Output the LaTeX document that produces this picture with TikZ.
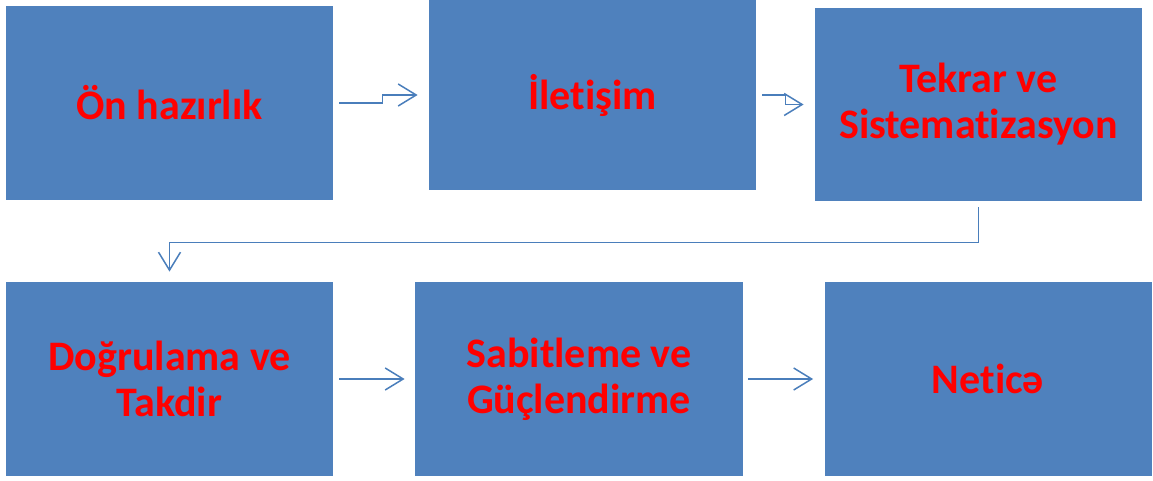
\documentclass[tikz,border=0pt]{standalone}
\usepackage{fontspec}
\setmainfont{Carlito}[Ligatures={NoCommon}]
\usetikzlibrary{arrows.meta}
\definecolor{boxblue}{HTML}{4F81BD}
\definecolor{lineblue}{HTML}{4A7EBB}
\tikzset{
  stagebox/.style={fill=boxblue, text=red, font=\bfseries\fontsize{21}{23}\selectfont,
    align=center, inner sep=0pt, minimum width=163.5pt, minimum height=97pt},
  flow/.style={draw=lineblue, line width=0.75pt,
    -{Straight Barb[length=9pt,width=11pt,line width=0.75pt]}}
}
\begin{document}
\begin{tikzpicture}[x=0.5pt,y=-0.5pt]
  \useasboundingbox (0,0) rectangle (1153,481);
  % first row
  \node[stagebox] (hazir) at (169.5,103) {Ön hazırlık};
  \node[stagebox,minimum height=95pt] (ilet) at (592.5,95) {İletişim};
  \node[stagebox,minimum height=96.5pt] (tekrar) at (978.5,104.5) {Tekrar ve\\Sistematizasyon};
  % second row
  \node[stagebox] (dogru) at (169.5,379) {Doğrulama ve\\Takdir};
  \node[stagebox,minimum width=164pt] (sabit) at (579,379) {Sabitleme ve\\Güçlendirme};
  \node[stagebox] (netice) at (988,379) {Neticə};
  % connectors
  \draw[flow] ([xshift=3pt]hazir.east) -- ++(21.5pt,0) |- ([xshift=-5.5pt]ilet.west);
  \draw[flow] ([xshift=3pt]ilet.east) -- ++(11.5pt,0) |- ([xshift=-5.5pt]tekrar.west);
  \draw[flow] ([yshift=-3pt]tekrar.south) -- ++(0,-17.5pt) -| ([yshift=5pt]dogru.north);
  \draw[flow] ([xshift=3pt]dogru.east) -- ([xshift=-5pt]sabit.west);
  \draw[flow] ([xshift=2.5pt]sabit.east) -- ([xshift=-5.5pt]netice.west);
\end{tikzpicture}
\end{document}
